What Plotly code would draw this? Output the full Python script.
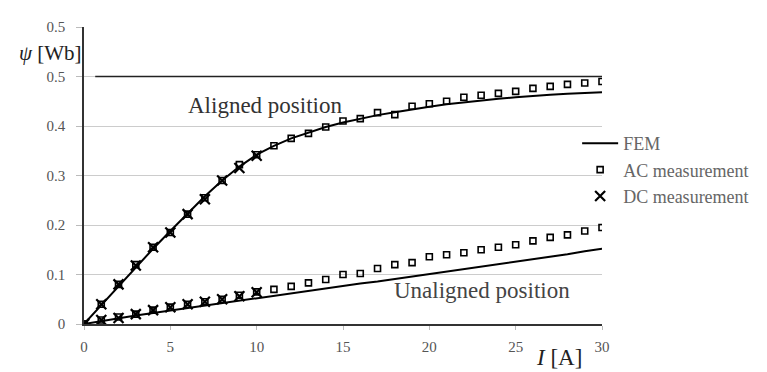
import plotly.graph_objects as go

current = list(range(0, 31))
fem_aligned = [0, 0.038, 0.077, 0.115, 0.152, 0.188, 0.224, 0.258, 0.290, 0.318, 0.342,
               0.360, 0.375, 0.387, 0.398, 0.407, 0.415, 0.422, 0.428, 0.434, 0.439,
               0.444, 0.448, 0.452, 0.455, 0.458, 0.461, 0.463, 0.465, 0.467, 0.468]
fem_unaligned = [0, 0.006, 0.012, 0.017, 0.022, 0.027, 0.032, 0.037, 0.042, 0.047, 0.053,
                 0.058, 0.063, 0.068, 0.073, 0.078, 0.082, 0.086, 0.091, 0.096, 0.100,
                 0.105, 0.110, 0.115, 0.120, 0.125, 0.130, 0.136, 0.141, 0.147, 0.152]
ac_aligned = [0, 0.040, 0.080, 0.120, 0.155, 0.185, 0.222, 0.255, 0.290, 0.322, 0.342,
              0.360, 0.375, 0.385, 0.398, 0.410, 0.415, 0.427, 0.423, 0.440, 0.445,
              0.450, 0.458, 0.462, 0.466, 0.470, 0.476, 0.480, 0.484, 0.487, 0.490]
ac_unaligned = [0, 0.008, 0.014, 0.020, 0.028, 0.034, 0.040, 0.045, 0.050, 0.058, 0.065,
                0.070, 0.076, 0.083, 0.090, 0.100, 0.102, 0.112, 0.120, 0.124, 0.136,
                0.140, 0.144, 0.150, 0.155, 0.160, 0.168, 0.175, 0.180, 0.188, 0.195]
dc_current = list(range(0, 11))
dc_aligned = [0, 0.040, 0.080, 0.118, 0.155, 0.185, 0.222, 0.252, 0.290, 0.315, 0.340]
dc_unaligned = [0, 0.008, 0.012, 0.020, 0.028, 0.034, 0.040, 0.045, 0.050, 0.056, 0.064]

y_tickvals = [0, 0.1, 0.2, 0.3, 0.4, 0.5, 0.6]
y_ticktext = ["0", "0.1", "0.2", "0.3", "0.4", "0.5", "0.5"]
x_tickvals = [0, 5, 10, 15, 20, 25, 30]

serif = "Liberation Serif, Times New Roman, serif"

sq = dict(symbol="square-open", size=6, color="black", line=dict(width=1.6, color="black"))
xm = dict(symbol="x-thin-open", size=10, color="black", line=dict(width=2.2, color="black"))

fig = go.Figure()
fig.add_trace(go.Scatter(x=current, y=fem_aligned, mode="lines", name="FEM",
                         legendgroup="fem", line=dict(color="black", width=2)))
fig.add_trace(go.Scatter(x=current, y=fem_unaligned, mode="lines", name="FEM",
                         legendgroup="fem", showlegend=False,
                         line=dict(color="black", width=2)))
fig.add_trace(go.Scatter(x=current, y=ac_aligned, mode="markers", name="AC measurement",
                         legendgroup="ac", marker=sq))
fig.add_trace(go.Scatter(x=current, y=ac_unaligned, mode="markers", name="AC measurement",
                         legendgroup="ac", showlegend=False, marker=sq))
fig.add_trace(go.Scatter(x=dc_current, y=dc_aligned, mode="markers", name="DC measurement",
                         legendgroup="dc", marker=xm))
fig.add_trace(go.Scatter(x=dc_current, y=dc_unaligned, mode="markers", name="DC measurement",
                         legendgroup="dc", showlegend=False, marker=xm))

fig.add_shape(type="line", xref="x", yref="y", x0=0.65, x1=30, y0=0.5, y1=0.5,
              line=dict(color="#222222", width=1.5), layer="above")

fig.add_annotation(x=10.5, y=0.441, xref="x", yref="y", text="Aligned position",
                   showarrow=False, font=dict(family=serif, size=23, color="#333333"))
fig.add_annotation(x=23.05, y=0.067, xref="x", yref="y", text="Unaligned position",
                   showarrow=False, font=dict(family=serif, size=23, color="#444444"))
fig.add_annotation(x=0.0, y=0.547, xref="paper", yref="y", xanchor="right", xshift=0,
                   text="<i>ψ</i> [Wb]", showarrow=False,
                   font=dict(family=serif, size=21, color="#222222"))
fig.add_annotation(x=27.5, y=0, xref="x", yref="y", yshift=-33,
                   text="<i>I</i> [A]", showarrow=False,
                   font=dict(family=serif, size=23, color="#222222"))

fig.update_layout(
    width=759, height=364,
    margin=dict(l=76, r=165, t=11, b=48),
    plot_bgcolor="white", paper_bgcolor="white",
    font=dict(family=serif, size=15, color="#555555"),
    showlegend=True,
    legend=dict(x=0.952, y=0.67, xanchor="left", yanchor="top",
                bgcolor="rgba(0,0,0,0)", font=dict(family=serif, size=18, color="#666666"),
                itemwidth=36, tracegroupgap=0, traceorder="grouped"),
    xaxis=dict(range=[0, 30], tickvals=x_tickvals, showgrid=False, zeroline=False,
               showline=True, linecolor="#333333", linewidth=1.5,
               ticks="outside", ticklen=4, tickcolor="#bbbbbb", ticklabelstandoff=4,
               tickfont=dict(family=serif, size=15, color="#555555")),
    yaxis=dict(range=[0, 0.6], tickvals=y_tickvals, ticktext=y_ticktext,
               showgrid=True, gridcolor="#cccccc", gridwidth=1, zeroline=False,
               showline=True, linecolor="#333333", linewidth=1.5,
               ticks="outside", ticklen=6, tickcolor="#bbbbbb", ticklabelstandoff=8,
               tickfont=dict(family=serif, size=15, color="#555555")),
)

fig.write_html("out.html")
